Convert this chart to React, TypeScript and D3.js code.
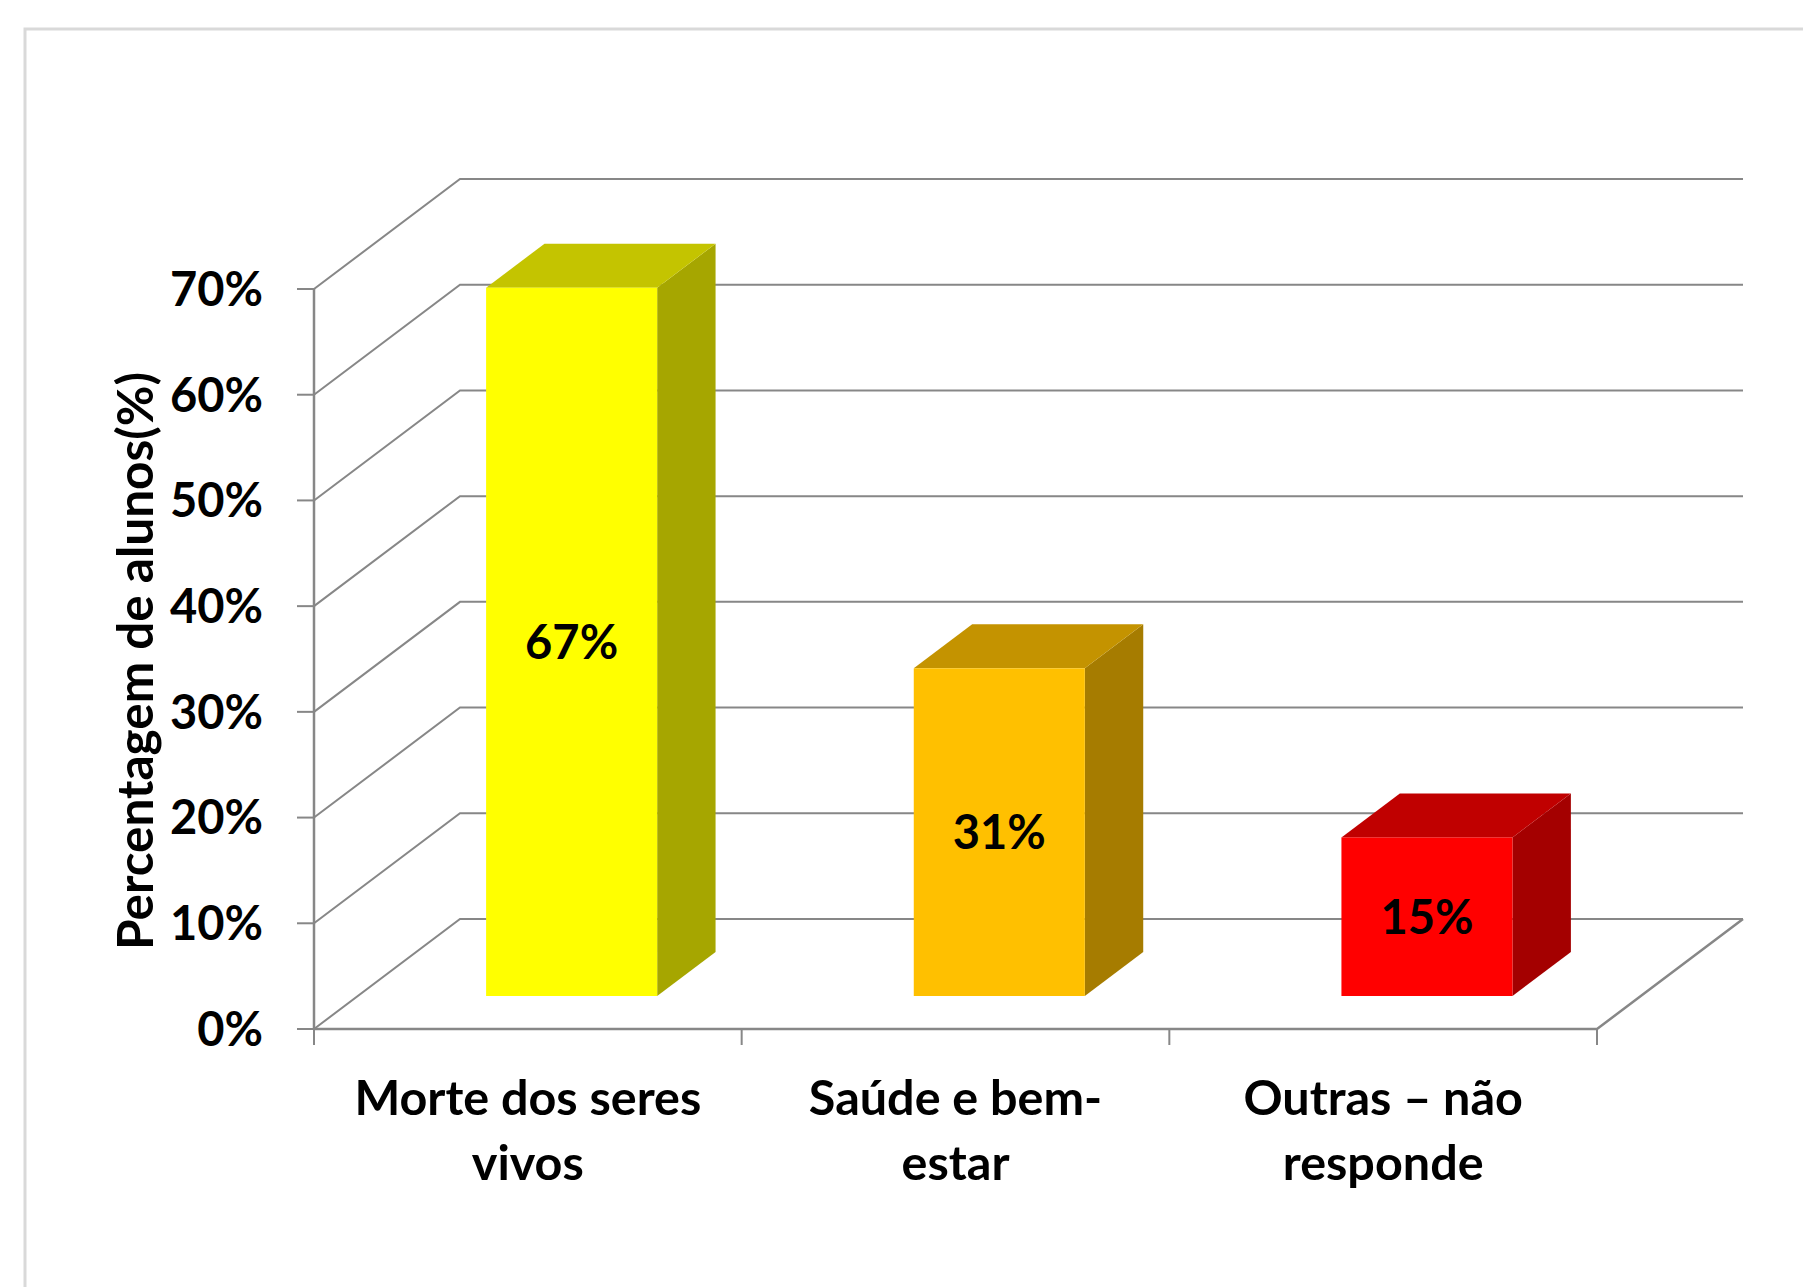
import { useEffect, useRef } from 'react'
import * as d3 from 'd3'

const categories = ['Morte dos seres vivos', 'Saúde e bem-estar', 'Outras – não responde']
const categoryLines = [
  ['Morte dos seres', 'vivos'],
  ['Saúde e bem-', 'estar'],
  ['Outras – não', 'responde'],
]
const values = [0.67, 0.31, 0.15]
const valueLabels = ['67%', '31%', '15%']
const yTicks = [0, 0.1, 0.2, 0.3, 0.4, 0.5, 0.6, 0.7]
const frontColors = ['#ffff00', '#ffc000', '#ff0000']
const topColors = ['#c4c400', '#c49300', '#c00000']
const sideColors = ['#a6a600', '#a67c00', '#a40000']
const yTitle = 'Percentagem de alunos(%)'

export default function App() {
  const svgRef = useRef<SVGSVGElement>(null)

  useEffect(() => {
    if (!svgRef.current) return
    const W = 1803
    const H = 1287
    const font = 'Lato, "Open Sans", sans-serif'
    const grid = '#878787'

    d3.select(svgRef.current).selectAll('*').remove()
    const svg = d3.select(svgRef.current).attr('width', W).attr('height', H)

    // outer frame (runs off the picture on the right and bottom)
    svg.append('rect')
      .attr('x', 25).attr('y', 29)
      .attr('width', W).attr('height', H)
      .attr('fill', 'white')
      .attr('stroke', '#d9d9d9')
      .attr('stroke-width', 3)

    const x0 = 314
    const x1 = 1597
    const y = d3.scaleLinear().domain([0, 0.7]).range([1029, 289])
    const x = d3.scaleBand<string>()
      .domain(categories)
      .range([x0, x1])
      .paddingInner(0.6)
      .paddingOuter(0.3)

    // depth of the 3d box
    const dx = 146
    const dy = -110
    const f0 = 0.3
    const f1 = 0.7

    // side wall + back wall gridlines
    const g = svg.append('g').attr('fill', 'none').attr('stroke', grid).attr('stroke-width', 2)
    yTicks.forEach(t => {
      g.append('polyline')
        .attr('points', `${x0},${y(t)} ${x0 + dx},${y(t) + dy} ${x1 + dx},${y(t) + dy}`)
    })

    // floor
    g.append('polyline')
      .attr('points', `${x0},${y(0)} ${x1},${y(0)} ${x1 + dx},${y(0) + dy}`)
      .attr('stroke-width', 2.5)

    // y axis + ticks
    g.append('line')
      .attr('x1', x0).attr('x2', x0)
      .attr('y1', y(0.7)).attr('y2', y(0))
      .attr('stroke-width', 2.5)
    yTicks.forEach(t => {
      g.append('line')
        .attr('x1', x0 - 17).attr('x2', x0)
        .attr('y1', y(t)).attr('y2', y(t))
    })
    d3.range(categories.length + 1).forEach(i => {
      const xx = x0 + i * x.step()
      g.append('line')
        .attr('x1', xx).attr('x2', xx)
        .attr('y1', y(0)).attr('y2', y(0) + 16)
    })

    // bars
    categories.forEach((c, i) => {
      const left = (x(c) || 0) + f0 * dx
      const right = left + x.bandwidth()
      const bottom = y(0) + f0 * dy
      const top = y(values[i]) + f0 * dy
      const ddx = (f1 - f0) * dx
      const ddy = (f1 - f0) * dy
      const bar = svg.append('g')

      bar.append('polygon')
        .attr('points', `${right},${top} ${right + ddx},${top + ddy} ${right + ddx},${bottom + ddy} ${right},${bottom}`)
        .attr('fill', sideColors[i])
      bar.append('polygon')
        .attr('points', `${left},${top} ${left + ddx},${top + ddy} ${right + ddx},${top + ddy} ${right},${top}`)
        .attr('fill', topColors[i])
      bar.append('rect')
        .attr('x', left).attr('y', top)
        .attr('width', right - left).attr('height', bottom - top)
        .attr('fill', frontColors[i])

      bar.append('text')
        .attr('x', (left + right) / 2)
        .attr('y', (top + bottom) / 2)
        .attr('dy', '0.36em')
        .attr('text-anchor', 'middle')
        .attr('font-family', font)
        .attr('font-weight', 'bold')
        .attr('font-size', 47)
        .attr('fill', '#000')
        .text(valueLabels[i])
    })

    // y tick labels
    yTicks.forEach(t => {
      svg.append('text')
        .attr('x', 263)
        .attr('y', y(t))
        .attr('dy', '0.36em')
        .attr('text-anchor', 'end')
        .attr('font-family', font)
        .attr('font-weight', 'bold')
        .attr('font-size', 47)
        .text(`${Math.round(t * 100)}%`)
    })

    // category labels
    categories.forEach((c, i) => {
      const cx = (x(c) || 0) + x.bandwidth() / 2
      categoryLines[i].forEach((line, j) => {
        svg.append('text')
          .attr('x', cx)
          .attr('y', y(0) + 69 + j * 65)
          .attr('dy', '0.36em')
          .attr('text-anchor', 'middle')
          .attr('font-family', font)
          .attr('font-weight', 'bold')
          .attr('font-size', 48.5)
          .text(line)
      })
    })

    // y axis title
    svg.append('text')
      .attr('transform', `translate(135,${(y(0) + y(0.7)) / 2 + 2}) rotate(-90)`)
      .attr('dy', '0.36em')
      .attr('text-anchor', 'middle')
      .attr('font-family', font)
      .attr('font-weight', 'bold')
      .attr('font-size', 49.5)
      .text(yTitle)
  }, [])

  return (
    <div style={{ position: 'absolute', left: 0, top: 0, width: 1803, height: 1287, overflow: 'hidden', background: 'white' }}>
      <svg ref={svgRef} style={{ display: 'block' }}></svg>
    </div>
  )
}
